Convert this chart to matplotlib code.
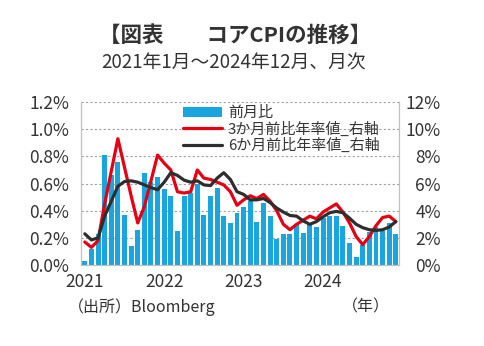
import matplotlib
matplotlib.use('Agg')
import matplotlib.pyplot as plt
import numpy as np

plt.rcParams['font.family'] = ['Noto Sans CJK JP', 'DejaVu Sans']

# Monthly core CPI, Jan 2021 - Dec 2024
mom = [0.03, 0.12, 0.23, 0.81, 0.66, 0.76, 0.37, 0.14, 0.26, 0.68,
       0.61, 0.65, 0.56, 0.51, 0.25, 0.51, 0.53, 0.60, 0.37, 0.51,
       0.57, 0.36, 0.31, 0.38, 0.43, 0.47, 0.32, 0.46, 0.36, 0.19,
       0.23, 0.23, 0.30, 0.235, 0.31, 0.28, 0.35, 0.36, 0.36, 0.29,
       0.16, 0.06, 0.15, 0.245, 0.28, 0.25, 0.31, 0.23]
ann3m = [1.7, 1.3, 1.8, 4.5, 6.9, 9.3, 7.2, 5.1, 3.1, 4.3,
         6.2, 8.1, 7.5, 7.0, 5.4, 5.3, 5.4, 7.0, 6.4, 6.3,
         6.1, 5.9, 5.4, 4.4, 4.8, 5.1, 4.9, 5.2, 4.7, 4.0,
         3.0, 2.6, 3.0, 3.3, 3.6, 3.4, 3.9, 4.2, 4.5, 3.9,
         3.1, 2.1, 1.5, 2.1, 2.9, 3.5, 3.6, 3.2]
ann6m = [2.3, 1.85, 2.0, 3.6, 4.7, 5.8, 6.15, 6.2, 6.1, 5.9,
         5.7, 5.55, 6.1, 6.8, 6.6, 6.25, 6.1, 6.2, 5.9, 5.85,
         6.4, 6.8, 6.3, 5.4, 5.2, 4.8, 4.8, 4.9, 4.6, 4.2,
         3.9, 3.65, 3.6, 3.25, 3.0, 3.2, 3.55, 3.85, 3.95, 3.85,
         3.45, 3.0, 2.75, 2.6, 2.55, 2.6, 2.8, 3.2]
year_labels = ['2021', '2022', '2023', '2024']
left_ticks = [0.0, 0.2, 0.4, 0.6, 0.8, 1.0, 1.2]
right_ticks = [0, 2, 4, 6, 8, 10, 12]
series_names = ['前月比', '3か月前比年率値_右軸', '6か月前比年率値_右軸']

txt = '#333333'
blue = '#19a6e0'
red = '#e60012'
dark = '#2e2e2e'
gray = '#bfbfbf'

fig = plt.figure(figsize=(4.85, 3.46), dpi=100)
ax = fig.add_axes([0.168, 0.234, 0.655, 0.471])
x = np.arange(len(mom))
bars = ax.bar(x, mom, width=0.75, color=blue, zorder=2, label=series_names[0])
ax.set_xlim(-0.5, len(mom) - 0.5)
ax.set_ylim(0, 1.2)
ax.set_yticks(left_ticks)
ax.set_yticklabels([f'{v:.1f}%' for v in left_ticks])
ax.set_xticks([12 * i for i in range(len(year_labels))])
ax.set_xticklabels(year_labels)
ax.grid(axis='y', ls=(0, (2, 2)), color='#a0a0a0', lw=0.8)
ax.set_axisbelow(True)
ax.tick_params(axis='y', length=0, pad=9, labelsize=12.5, colors=txt)
ax.tick_params(axis='x', length=0, pad=6, labelsize=12.5, colors=txt)
for s in ['left', 'right', 'bottom']:
    ax.spines[s].set_color(gray)
    ax.spines[s].set_linewidth(0.8)
ax.spines['top'].set_visible(False)

ax2 = ax.twinx()
l1, = ax2.plot(x, ann3m, color=red, lw=2.3, solid_joinstyle='round',
               solid_capstyle='round', label=series_names[1])
l2, = ax2.plot(x, ann6m, color=dark, lw=2.3, solid_joinstyle='round',
               solid_capstyle='round', label=series_names[2])
ax2.set_ylim(0, 12)
ax2.set_yticks(right_ticks)
ax2.set_yticklabels([f'{v}%' for v in right_ticks])
ax2.tick_params(axis='y', length=0, pad=30, labelsize=12.5, colors=txt)
for lab in ax2.get_yticklabels():
    lab.set_horizontalalignment('right')
for s in ['left', 'right', 'bottom']:
    ax2.spines[s].set_color(gray)
    ax2.spines[s].set_linewidth(0.8)
ax2.spines['top'].set_visible(False)

leg = ax2.legend([bars, l1, l2], series_names, loc='upper left',
                 bbox_to_anchor=(183 / 485, 1 - 106 / 346),
                 bbox_transform=fig.transFigure, frameon=False,
                 fontsize=10.8, handlelength=2.6, handletextpad=0.4,
                 labelspacing=0.08, borderpad=0, borderaxespad=0)
for t in leg.get_texts():
    t.set_color(txt)

fig.text(235 / 485, 1 - 35 / 346, '【図表　　コアCPIの推移】', ha='center',
         va='center', fontsize=15.5, fontweight='bold', color=txt)
fig.text(234 / 485, 1 - 63 / 346, '2021年1月～2024年12月、月次', ha='center',
         va='center', fontsize=13.5, color=txt)
fig.text(68 / 485, 1 - 307 / 346, '（出所）Bloomberg', ha='left', va='center',
         fontsize=11.5, color=txt)
fig.text(366 / 485, 1 - 307 / 346, '（年）', ha='center', va='center',
         fontsize=11.5, color=txt)

fig.savefig('out.png', dpi=100)
